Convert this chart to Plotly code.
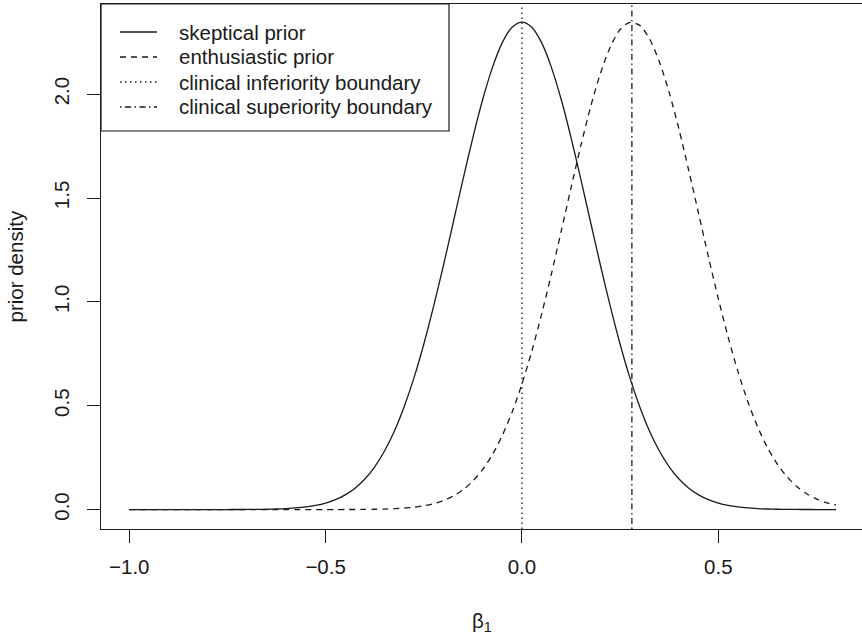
import plotly.graph_objects as go

# ---- data ----
beta1 = [-1.000, -0.975, -0.950, -0.925, -0.900, -0.875, -0.850, -0.825, -0.800, -0.775,
         -0.750, -0.725, -0.700, -0.675, -0.650, -0.625, -0.600, -0.575, -0.550, -0.525,
         -0.500, -0.475, -0.450, -0.425, -0.400, -0.375, -0.350, -0.325, -0.300, -0.275,
         -0.250, -0.225, -0.200, -0.175, -0.150, -0.125, -0.100, -0.075, -0.050, -0.025,
         0.000, 0.025, 0.050, 0.075, 0.100, 0.125, 0.150, 0.175, 0.200, 0.225,
         0.250, 0.275, 0.300, 0.325, 0.350, 0.375, 0.400, 0.425, 0.450, 0.475,
         0.500, 0.525, 0.550, 0.575, 0.600, 0.625, 0.650, 0.675, 0.700, 0.725,
         0.750, 0.775, 0.800]

skeptical = [0.0000, 0.0000, 0.0000, 0.0000, 0.0000, 0.0000, 0.0000, 0.0000, 0.0000, 0.0000,
             0.0001, 0.0003, 0.0005, 0.0009, 0.0016, 0.0027, 0.0046, 0.0077, 0.0125, 0.0199,
             0.0311, 0.0474, 0.0707, 0.103, 0.147, 0.206, 0.282, 0.377, 0.495, 0.634,
             0.796, 0.978, 1.175, 1.382, 1.590, 1.791, 1.974, 2.129, 2.248, 2.322,
             2.347, 2.322, 2.248, 2.129, 1.974, 1.791, 1.590, 1.382, 1.175, 0.978,
             0.796, 0.634, 0.495, 0.377, 0.282, 0.206, 0.147, 0.103, 0.0707, 0.0474,
             0.0311, 0.0199, 0.0125, 0.0077, 0.0046, 0.0027, 0.0016, 0.0009, 0.0005, 0.0003,
             0.0001, 0.0000, 0.0000]

enthusiastic = [0.0000, 0.0000, 0.0000, 0.0000, 0.0000, 0.0000, 0.0000, 0.0000, 0.0000, 0.0000,
                0.0000, 0.0000, 0.0000, 0.0000, 0.0000, 0.0000, 0.0000, 0.0000, 0.0000, 0.0000,
                0.0000, 0.0001, 0.0002, 0.0004, 0.0008, 0.0014, 0.0024, 0.0042, 0.0070, 0.0114,
                0.0182, 0.0284, 0.0436, 0.0653, 0.0958, 0.1375, 0.193, 0.265, 0.357, 0.469,
                0.605, 0.762, 0.940, 1.134, 1.340, 1.549, 1.752, 1.940, 2.101, 2.227,
                2.311, 2.346, 2.331, 2.266, 2.156, 2.008, 1.830, 1.631, 1.424, 1.216,
                1.016, 0.831, 0.665, 0.521, 0.399, 0.299, 0.220, 0.158, 0.111, 0.0763,
                0.0514, 0.0338, 0.0218]

inferiority_boundary = 0.0
superiority_boundary = 0.28

legend_labels = ["skeptical prior", "enthusiastic prior",
                 "clinical inferiority boundary", "clinical superiority boundary"]

x_ticks = [-1.0, -0.5, 0.0, 0.5]
x_ticktext = ["\u22121.0", "\u22120.5", "0.0", "0.5"]
y_ticks = [0.0, 0.5, 1.0, 1.5, 2.0]
y_ticktext = ["0.0", "0.5", "1.0", "1.5", "2.0"]

# ---- styling ----
W, H = 862, 634
L, R, T, B = 101, 0, 4, 105
pw, ph = W - L - R, H - T - B
INK = "#1a1a1a"
FONT = "Liberation Sans, Arial, Helvetica, sans-serif"
FS = 20.5
LW = 1.3
dashes = ["solid", "6px,5px", "1.5px,3.5px", "1.5px,3.5px,6px,3.5px"]

def px_x(p):
    return (p - L) / pw

def px_y(p):
    return (H - B - p) / ph

fig = go.Figure()
fig.add_trace(go.Scatter(x=beta1, y=skeptical, mode="lines",
                         line=dict(color=INK, width=LW, dash=dashes[0], shape="spline", smoothing=0.8),
                         showlegend=False, hoverinfo="skip"))
fig.add_trace(go.Scatter(x=beta1, y=enthusiastic, mode="lines",
                         line=dict(color=INK, width=LW, dash=dashes[1], shape="spline", smoothing=0.8),
                         showlegend=False, hoverinfo="skip"))

fig.add_vline(x=inferiority_boundary, line=dict(color=INK, width=LW, dash=dashes[2]))
fig.add_vline(x=superiority_boundary, line=dict(color=INK, width=LW, dash=dashes[3]))

# ---- legend drawn by hand (R style box) ----
shapes = []
annotations = []
shapes.append(dict(type="rect", xref="paper", yref="paper",
                   x0=px_x(101), x1=px_x(449), y0=px_y(131), y1=px_y(4),
                   line=dict(color=INK, width=1.2), fillcolor="white", layer="above"))
rows = [32, 57, 82, 107]
for lab, d, ry in zip(legend_labels, dashes, rows):
    shapes.append(dict(type="line", xref="paper", yref="paper",
                       x0=px_x(120), x1=px_x(157), y0=px_y(ry), y1=px_y(ry),
                       line=dict(color=INK, width=LW, dash=d), layer="above"))
    annotations.append(dict(text=lab, xref="paper", yref="paper",
                            x=px_x(177), y=px_y(ry), xanchor="left", yanchor="middle",
                            showarrow=False, font=dict(family=FONT, size=FS, color=INK)))

# axis titles
annotations.append(dict(text="prior density", xref="paper", yref="paper",
                        x=px_x(15), y=0.5, xanchor="center", yanchor="middle",
                        textangle=-90, showarrow=False,
                        font=dict(family=FONT, size=FS, color=INK)))
annotations.append(dict(text="\u03b2<sub>1</sub>", xref="paper", yref="paper",
                        x=px_x(482.5), y=px_y(622), xanchor="center", yanchor="middle",
                        showarrow=False, font=dict(family=FONT, size=FS, color=INK)))

fig.update_layout(
    width=W, height=H, autosize=False,
    margin=dict(l=L, r=R, t=T, b=B, pad=0),
    paper_bgcolor="white", plot_bgcolor="white",
    font=dict(family=FONT, size=FS, color=INK),
    shapes=list(fig.layout.shapes) + shapes,
    annotations=annotations,
    showlegend=False,
    xaxis=dict(range=[-1.072, 0.866], tickmode="array", tickvals=x_ticks, ticktext=x_ticktext,
               ticks="outside", ticklen=13, tickwidth=1, tickcolor=INK,
               showline=True, linecolor=INK, linewidth=1.2, mirror=True,
               showgrid=False, zeroline=False, ticklabelstandoff=6,
               tickfont=dict(family=FONT, size=FS, color=INK)),
    yaxis=dict(range=[-0.0936, 2.434], tickmode="array", tickvals=y_ticks, ticktext=y_ticktext,
               ticks="outside", ticklen=13, tickwidth=1, tickcolor=INK,
               showline=True, linecolor=INK, linewidth=1.2, mirror=False,
               showgrid=False, zeroline=False, tickangle=-90, ticklabelstandoff=10,
               tickfont=dict(family=FONT, size=FS, color=INK)),
)

fig.write_html("out.html")
